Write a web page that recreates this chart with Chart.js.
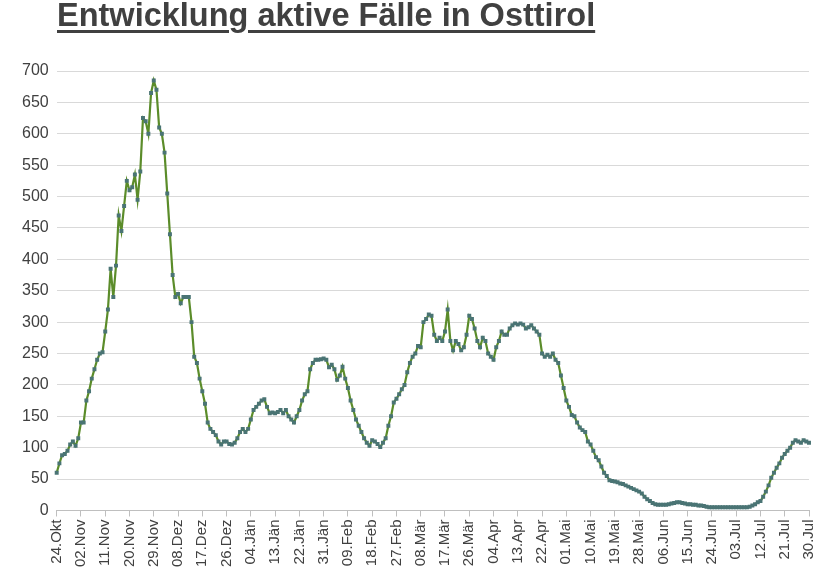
<!DOCTYPE html>
<html><head><meta charset="utf-8">
<script src="https://cdn.jsdelivr.net/npm/chart.js@4"></script>
<style>
body{margin:0;background:#fff;width:836px;height:575px;overflow:hidden;position:relative;font-family:"Liberation Sans",Arial,sans-serif}
#t{position:absolute;left:57px;top:-3px;font-size:32.5px;font-weight:bold;color:#404040;text-decoration:underline;text-decoration-thickness:3px;text-underline-offset:4px;white-space:nowrap}
#w{position:absolute;left:0;top:0;width:836px;height:575px}
</style></head><body>
<div id="w"><canvas id="c" width="836" height="575"></canvas></div>
<div id="t">Entwicklung aktive Fälle in Osttirol</div>
<script>
const months=["Okt","Nov","Dez","Jän","Feb","Mär","Apr","Mai","Jun","Jul"];
const monthDays=[31,30,31,31,28,31,30,31,30,31];
const startDay=24, dayCount=280, labelStep=9;
const values=[
60,75,88,90,95,105,110,103,115,
140,140,175,190,210,225,240,250,252,
285,320,385,340,390,470,445,485,525,
510,515,535,495,540,625,620,600,665,
685,670,610,600,570,505,440,375,340,
345,330,340,340,340,300,245,235,210,
190,170,140,130,125,120,110,105,110,
110,106,105,108,115,125,130,125,130,
145,160,165,170,175,177,165,155,156,
155,157,160,155,160,150,145,140,150,
160,175,185,190,225,235,240,240,241,
242,240,228,232,225,208,215,229,210,
195,175,160,145,135,125,115,108,103,
112,110,106,101,108,115,135,150,172,
178,185,193,200,220,235,245,250,262,
260,300,305,312,310,280,270,275,270,
285,320,270,255,270,265,255,260,280,
310,305,290,270,260,275,270,250,245,
240,260,270,285,280,280,290,295,298,
296,298,296,290,292,295,290,285,280,
250,245,248,245,250,240,235,215,195,
175,165,152,150,140,132,128,125,110,
105,95,85,80,70,60,55,48,47,
46,45,43,42,40,38,36,34,32,
30,27,22,18,15,12,10,9,9,
9,9,10,11,12,13,13,12,11,
10,10,9,9,8,8,7,6,5,
5,5,5,5,5,5,5,5,5,
5,5,5,5,5,6,8,10,13,
15,22,30,40,52,60,68,75,84,
90,95,100,108,112,110,108,112,110,
108];
const categories=[];
{let m=0,d=startDay;for(let i=0;i<dayCount;i++){categories.push(String(d).padStart(2,"0")+"."+months[m]);d++;if(d>monthDays[m]){d=1;m++;}}}
new Chart(document.getElementById("c"),{
type:"line",
data:{labels:categories,datasets:[{data:values,borderColor:"#5b8c2a",borderWidth:2.2,tension:0,
pointStyle:"rect",pointRadius:2.8,pointBackgroundColor:"#4a7474",pointBorderColor:"#4a7474",pointBorderWidth:0}]},
options:{responsive:false,animation:false,
layout:{padding:{top:71,right:27,left:14,bottom:5}},
plugins:{legend:{display:false},tooltip:{enabled:false}},
scales:{
x:{grid:{drawOnChartArea:false,color:c=>c.index%labelStep===0?"#bfbfbf":"rgba(0,0,0,0)",tickLength:6},
border:{color:"#bfbfbf"},
ticks:{autoSkip:false,maxRotation:90,minRotation:90,color:"#404040",font:{size:15,family:"Liberation Sans"},
callback:(v,i)=>i%labelStep===0?categories[i]:""}},
y:{min:0,max:700,ticks:{stepSize:50,color:"#404040",font:{size:16,family:"Liberation Sans"},padding:8},
grid:{color:"#d9d9d9",drawTicks:false},border:{display:false}}
}}});
</script></body></html>
